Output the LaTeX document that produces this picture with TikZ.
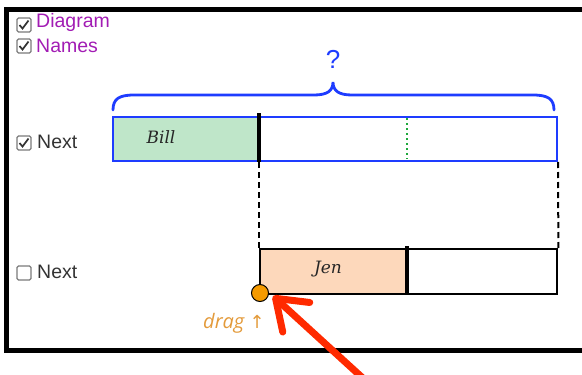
\documentclass[tikz,border=0pt]{standalone}
\usepackage{fontspec}
\setmainfont{Liberation Sans}
\newfontfamily\namefont{DejaVu Serif}
\newfontfamily\dragfont{Open Sans}
\newfontfamily\symfont{DejaVu Sans}
\usetikzlibrary{arrows.meta}

\definecolor{optpurple}{HTML}{A21CB4}
\definecolor{optgray}{HTML}{333333}
\definecolor{boxgray}{HTML}{7A7A7A}
\definecolor{barblue}{HTML}{1E3CFF}
\definecolor{billgreen}{HTML}{BFE6C9}
\definecolor{jenpeach}{HTML}{FDD8BB}
\definecolor{dotgreen}{HTML}{1EA83C}
\definecolor{handleorange}{HTML}{F59A00}
\definecolor{dragorange}{HTML}{E39A3A}
\definecolor{pointerred}{HTML}{FF2A00}

\tikzset{
  frameline/.style={line width=5pt, line cap=rect, line join=miter},
  cbox/.style={draw=boxgray, line width=1.3pt, rounded corners=1.5pt,
    minimum size=14pt, inner sep=0pt, fill=white},
  tick/.style={draw=optgray, line width=1.7pt, line join=miter},
  optlabel/.style={font=\fontsize{19.5}{19.5}\selectfont, anchor=base west, inner sep=0pt},
  barpart/.style={inner sep=0pt, anchor=north west},
  divider/.style={line width=4pt, black},
  dashedlink/.style={line width=2pt, black, dash pattern=on 6pt off 4pt},
  namelabel/.style={font=\namefont\itshape\fontsize{17}{17}\selectfont, text=black!85},
  pointer/.style={line width=7pt, pointerred, line cap=round,
    -{Straight Barb[length=28pt, width=40pt, line cap=round, line join=round]}},
}

\begin{document}
\begin{tikzpicture}[x=1pt, y=-1pt]
\useasboundingbox (0,0) rectangle (582,375);

% outer panel frame (continues past the right edge)
\draw[frameline] (590,9) -- (6.5,9) -- (6.5,350) -- (590,350);

% option checkboxes
\node[cbox] (cbDiagram) at (24,25) {};
\draw[tick] (cbDiagram.center) +(-4.5,0) -- +(-1.5,3.5) -- +(4.5,-4.5);
\node[optlabel, text=optpurple] (tDiagram) at (36,27) {Diagram};

\node[cbox] (cbNames) at (24,46) {};
\draw[tick] (cbNames.center) +(-4.5,0) -- +(-1.5,3.5) -- +(4.5,-4.5);
\node[optlabel, text=optpurple] (tNames) at (36,52) {Names};

\node[cbox] (cbNext) at (24,143) {};
\draw[tick] (cbNext.center) +(-4.5,0) -- +(-1.5,3.5) -- +(4.5,-4.5);
\node[optlabel, text=optgray] (tNext) at (37,148) {Next};

\node[cbox] (cbNextB) at (24,273) {};
\node[optlabel, text=optgray] (tNextB) at (37,278) {Next};

% top bar: Bill's part and the unknown remainder
\node[barpart, fill=billgreen, minimum width=147pt, minimum height=44pt] (bill) at (112,116) {};
\node[barpart, draw=barblue, line width=2pt, minimum width=444pt, minimum height=44pt] (topbar) at (112,116) {};
\node[namelabel] (billText) at (161,137) {Bill};
\draw[dotgreen, line width=2pt, dash pattern=on 2pt off 3pt] (407,118) -- (407,159);
\draw[divider] (259,113) -- (259,162);

% brace with the question mark
\draw[barblue, line width=2.8pt, line cap=round]
  (113,110) .. controls (113,99) and (119,95) .. (134,95) -- (314,95)
  .. controls (327,95) and (333,91) .. (333,82)
  .. controls (333,91) and (339,95) .. (352,95) -- (533,95)
  .. controls (548,95) and (554,99) .. (554,110);
\node[text=barblue, font=\fontsize{26}{26}\selectfont] (qmark) at (333,59) {?};

% bottom bar: Jen's part
\node[barpart, fill=jenpeach, minimum width=148pt, minimum height=45pt] (jen) at (259,248) {};
\node[barpart, draw=black, line width=2.4pt, minimum width=297pt, minimum height=45pt] (botbar) at (259,248) {};
\node[namelabel] (jenText) at (328,269) {Jen};
\draw[divider] (407,246) -- (407,295);

% alignment guides between the bars
\draw[dashedlink] (259,162) -- (botbar.north west);
\draw[dashedlink] (topbar.south east) -- (botbar.north east);

% drag handle
\node[circle, fill=handleorange, draw=black, line width=1pt, minimum size=17pt, inner sep=0pt] (handle) at (260,293) {};
\node[anchor=base west, inner sep=0pt, text=dragorange, font=\dragfont\itshape\fontsize{20}{20}\selectfont] (dragText) at (203,328) {drag \symfont\fontsize{18}{18}\selectfont↑};

% pointer
\coordinate (tail) at (366,381);
\coordinate (tip) at (273,296);
\draw[pointer] (tail) -- (tip);
\end{tikzpicture}
\end{document}
